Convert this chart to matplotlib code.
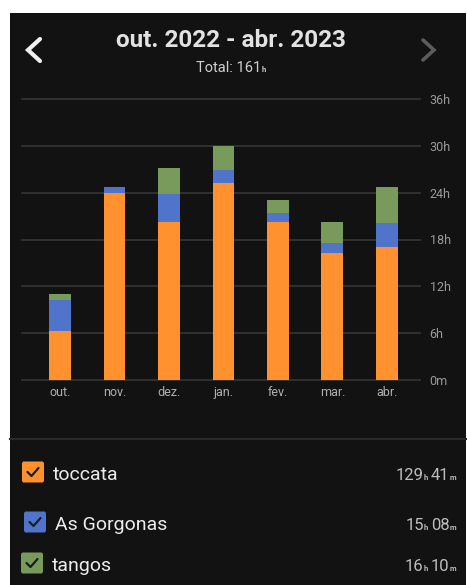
import matplotlib
matplotlib.use("Agg")
import matplotlib.pyplot as plt
from matplotlib.patches import Rectangle, FancyBboxPatch
from matplotlib.lines import Line2D

# data (hours per month)
months = ["out.", "nov.", "dez.", "jan.", "fev.", "mar.", "abr."]
toccata = [6.3, 24.0, 20.3, 25.2, 20.3, 16.3, 17.1]
gorgonas = [4.0, 0.7, 3.5, 1.7, 1.1, 1.2, 3.0]
tangos = [0.7, 0.0, 3.4, 3.1, 1.7, 2.8, 4.6]
y_ticks = [0, 6, 12, 18, 24, 30, 36]
y_labels = ["0m", "6h", "12h", "18h", "24h", "30h", "36h"]
series_names = ["toccata", "As Gorgonas", "tangos"]
series_totals = [("129", "41"), ("15", "08"), ("16", "10")]

ORANGE = "#ff922f"
BLUE = "#4f74c9"
GREEN = "#789b5b"
BG = "#121212"
W, H = 467, 585

plt.rcParams["font.family"] = ["Roboto", "DejaVu Sans"]

fig = plt.figure(figsize=(W / 100, H / 100), dpi=100, facecolor="white")


def fx(x):
    return x / W


def fy(y):
    return 1 - y / H


# dark screen background (white margin top / left)
fig.patches.append(Rectangle((fx(10), 0), fx(466) - fx(10), fy(13), transform=fig.transFigure,
                             facecolor=BG, edgecolor="none", zorder=-10))

ax = fig.add_axes([fx(22), fy(380), fx(420) - fx(22), fy(99) - fy(380)])
ax.set_facecolor(BG)
ax.patch.set_alpha(0)

x = list(range(len(months)))
bottom2 = [a + b for a, b in zip(toccata, gorgonas)]
ax.bar(x, toccata, width=0.40, color=ORANGE, zorder=3)
ax.bar(x, gorgonas, width=0.40, bottom=toccata, color=BLUE, zorder=3)
ax.bar(x, tangos, width=0.40, bottom=bottom2, color=GREEN, zorder=3)

ax.set_xlim(-0.70, 6.61)
ax.set_ylim(0, 36)
for v in y_ticks:
    ax.axhline(v, color="#333333", lw=1.3, zorder=1, clip_on=False)

for s in ax.spines.values():
    s.set_visible(False)
ax.yaxis.tick_right()
ax.set_yticks(y_ticks)
ax.set_yticklabels(y_labels)
ax.set_xticks(x)
ax.set_xticklabels(months)
ax.tick_params(axis="y", length=0, pad=7, labelsize=9, labelcolor="#9a9a9a")
ax.tick_params(axis="x", length=0, pad=4, labelsize=9, labelcolor="#b0b0b0")

# header
fig.text(fx(231), fy(47), "out. 2022 - abr. 2023", ha="center", va="baseline",
         fontsize=17.5, fontweight="bold", color="#e2e2e2")

renderer = fig.canvas.get_renderer()


def rich_text(x_px, y_px, parts, color, align="right"):
    # parts: list of (string, fontsize, weight)
    widths = []
    for s, size, wt in parts:
        t = fig.text(0, 0, s, fontsize=size, fontweight=wt)
        widths.append(t.get_window_extent(renderer).width)
        t.remove()
    total = sum(widths)
    if align == "right":
        start = x_px - total
    else:
        start = x_px - total / 2
    for (s, size, wt), w in zip(parts, widths):
        fig.text(fx(start), fy(y_px), s, ha="left", va="baseline", fontsize=size,
                 fontweight=wt, color=color)
        start += w


rich_text(231, 72, [("Total: 161", 10.5, "normal"), ("h", 5.5, "bold")], "#cfcfcf",
          align="center")

# navigation chevrons
fig.add_artist(Line2D([fx(40), fx(28), fx(40)], [fy(39), fy(50), fy(61)], lw=3,
                      color="#f0f0f0", solid_capstyle="round", solid_joinstyle="miter"))
fig.add_artist(Line2D([fx(423), fx(434), fx(423)], [fy(40), fy(50), fy(60)], lw=2.6,
                      color="#5c5c5c", solid_capstyle="round", solid_joinstyle="miter"))

# separator
fig.add_artist(Line2D([fx(10), fx(466)], [fy(439), fy(439)], lw=1.5, color="#2a2a2a"))

# legend rows
colors = [ORANGE, BLUE, GREEN]
box_x = [22, 24, 21]
row_base = [480, 530, 571]
row_mid = [472, 522, 563]
for name, (hh, mm), col, bx, yb, ym in zip(series_names, series_totals, colors, box_x,
                                              row_base, row_mid):
    fig.patches.append(FancyBboxPatch((fx(bx), fy(ym + 10.5)), fx(22) - fx(0), fy(0) - fy(21),
                                      boxstyle="round,pad=0,rounding_size=0.004",
                                      transform=fig.transFigure, facecolor=col,
                                      edgecolor="none"))
    fig.add_artist(Line2D([fx(bx + 5.5), fx(bx + 9.5), fx(bx + 16.5)],
                          [fy(ym), fy(ym + 4), fy(ym - 4)], lw=1.6, color="#1d1d1d",
                          solid_capstyle="round"))
    fig.text(fx(bx + 31), fy(yb), name, ha="left", va="baseline", fontsize=14,
             color="#ececec")
    rich_text(456, yb, [(hh, 12, "normal"), ("h", 5.5, "bold"), (" ", 8, "normal"),
                        (mm, 12, "normal"), ("m", 5.5, "bold")], "#bdbdbd")

fig.savefig("out.png", dpi=100, facecolor="white")
